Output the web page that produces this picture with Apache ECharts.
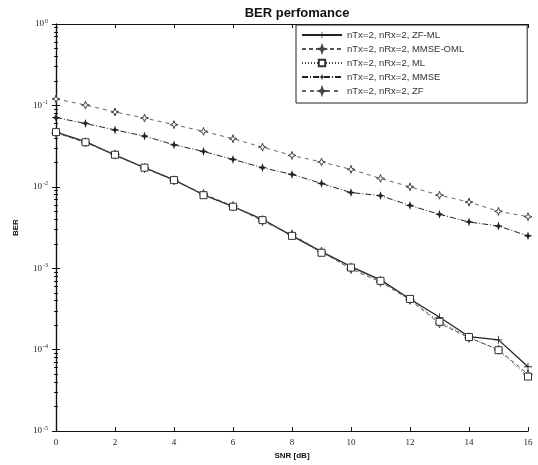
<!DOCTYPE html>
<html><head><meta charset="utf-8">
<script src="https://cdn.jsdelivr.net/npm/echarts@6/dist/echarts.min.js"></script>
<style>html,body{margin:0;padding:0;background:#fff}#c{width:538px;height:465px}</style>
</head><body><div id="c"></div>
<script>
const snr = [0,1,2,3,4,5,6,7,8,9,10,11,12,13,14,15,16];
const xTicks = [0,2,4,6,8,10,12,14,16];
const yTicks = ['10^0','10^-1','10^-2','10^-3','10^-4','10^-5'];
const names = ['nTx=2, nRx=2, ZF-ML','nTx=2, nRx=2, MMSE-OML','nTx=2, nRx=2, ML','nTx=2, nRx=2, MMSE','nTx=2, nRx=2, ZF'];
const berZFML = [0.047,0.036,0.0245,0.0172,0.0122,0.0080,0.0057,0.0040,0.0025,0.0016,0.00105,0.00072,0.00042,0.00025,0.000145,0.000132,0.0000617];
const berMMSEOML = [0.046,0.035,0.025,0.0170,0.0120,0.0082,0.0058,0.0038,0.0026,0.0016,0.00098,0.00068,0.00041,0.00021,0.00014,0.0001,0.00005];
const berML = [0.047,0.0353,0.0248,0.0172,0.0121,0.0079,0.0057,0.0039,0.0025,0.00155,0.00102,0.0007,0.00042,0.00022,0.000143,0.0000986,0.0000467];
const berMMSE = [0.071,0.060,0.050,0.042,0.0328,0.0272,0.0217,0.0172,0.0142,0.0110,0.0085,0.0078,0.0059,0.0046,0.0037,0.0033,0.0025];
const berZF = [0.12,0.101,0.083,0.070,0.058,0.048,0.039,0.0307,0.0243,0.0202,0.0164,0.0127,0.0100,0.0079,0.0065,0.0050,0.0043];

const star = 'path://M0,-10 L2.5,-2.5 L10,0 L2.5,2.5 L0,10 L-2.5,2.5 L-10,0 L-2.5,-2.5 Z';
const plus = 'path://M-1,-10 L1,-10 L1,-1 L10,-1 L10,1 L1,1 L1,10 L-1,10 L-1,1 L-10,1 L-10,-1 L-1,-1 Z';

function mk(data){ return snr.map((x,i)=>[x,data[i]]); }
const ink = '#222';
const series = [
  {name:names[0], data:mk(berZFML), symbol:plus, symbolSize:8, lineStyle:{type:'solid',width:1.3,color:ink}, itemStyle:{color:ink}},
  {name:names[1], data:mk(berMMSEOML), symbol:star, symbolSize:9, lineStyle:{type:[4,3],width:1,color:'#555'}, itemStyle:{color:'#fff',borderColor:'#444',borderWidth:1}},
  {name:names[2], data:mk(berML), symbol:'rect', symbolSize:7, lineStyle:{type:[1,2],width:1,color:'#444'}, itemStyle:{color:'#fff',borderColor:'#333',borderWidth:1}},
  {name:names[3], data:mk(berMMSE), symbol:star, symbolSize:9, lineStyle:{type:[6,2,1,2],width:1,color:ink}, itemStyle:{color:ink}},
  {name:names[4], data:mk(berZF), symbol:star, symbolSize:8, lineStyle:{type:[4,4],width:1,color:'#666'}, itemStyle:{color:'#fff',borderColor:'#444',borderWidth:1}}
].map(s=>Object.assign({type:'line', xAxisIndex:0, yAxisIndex:0, showSymbol:true, z:3}, s));

const labelFont = {fontFamily:'Liberation Serif', fontSize:9, color:'#222'};
const chart = echarts.init(document.getElementById('c'), null, {renderer:'canvas'});
chart.setOption({
  animation:false,
  backgroundColor:'#fff',
  title:{text:'BER perfomance', left:292, top:2, textAlign:'center',
    textStyle:{fontFamily:'Liberation Sans', fontWeight:'bold', fontSize:13, color:'#111'}},
  grid:{left:56, right:10, top:24, bottom:30, show:false},
  legend:{orient:'vertical', left:296, top:25, itemWidth:40, itemHeight:8, itemGap:4,
    padding:[5,63,7,5], borderColor:'#222', borderWidth:1, backgroundColor:'#fff',
    textStyle:{fontFamily:'Liberation Sans', fontSize:9.5, color:'#333'}, data:names},
  xAxis:[
    {type:'value', min:0, max:16, interval:2, position:'bottom',
     name:'SNR [dB]', nameLocation:'middle', nameGap:19,
     nameTextStyle:{fontFamily:'Liberation Sans', fontWeight:'bold', fontSize:8, color:'#111'},
     axisLine:{lineStyle:{color:'#111', width:1.2}},
     axisTick:{inside:true, length:4, lineStyle:{color:'#111'}},
     axisLabel:Object.assign({margin:7, formatter:v=>xTicks.includes(v)?String(v):''}, labelFont),
     splitLine:{show:false}},
    {type:'value', min:0, max:16, interval:2, position:'top',
     axisLine:{lineStyle:{color:'#111', width:1.2}},
     axisTick:{inside:true, length:4, lineStyle:{color:'#111'}},
     axisLabel:{show:false}, splitLine:{show:false}}
  ],
  yAxis:[
    {type:'log', logBase:10, min:1e-5, max:1, position:'left',
     name:'BER', nameLocation:'middle', nameGap:36, nameRotate:90,
     nameTextStyle:{fontFamily:'Liberation Sans', fontWeight:'bold', fontSize:8, color:'#111'},
     axisLine:{show:true, lineStyle:{color:'#111', width:1.2}},
     axisTick:{show:true, inside:true, length:4, lineStyle:{color:'#111'}},
     minorTick:{show:true, splitNumber:9, length:2, lineStyle:{color:'#111'}},
     axisLabel:{margin:8, formatter:function(v){
        const e = Math.round(Math.log10(v));
        const t = yTicks[-e];
        return t ? '{b|10}{s|' + t.split('^')[1] + '}' : '';
      }, rich:{b:Object.assign({}, labelFont, {fontSize:9}), s:Object.assign({}, labelFont, {fontSize:6, verticalAlign:'top', padding:[0,0,6,1]})}},
     splitLine:{show:false}},
    {type:'log', logBase:10, min:1e-5, max:1, position:'right',
     axisLine:{show:true, lineStyle:{color:'#111', width:1.2}},
     axisTick:{show:true, inside:true, length:4, lineStyle:{color:'#111'}},
     minorTick:{show:true, splitNumber:9, length:2, lineStyle:{color:'#111'}},
     axisLabel:{show:false}, splitLine:{show:false}}
  ],
  series: series
});
</script></body></html>
